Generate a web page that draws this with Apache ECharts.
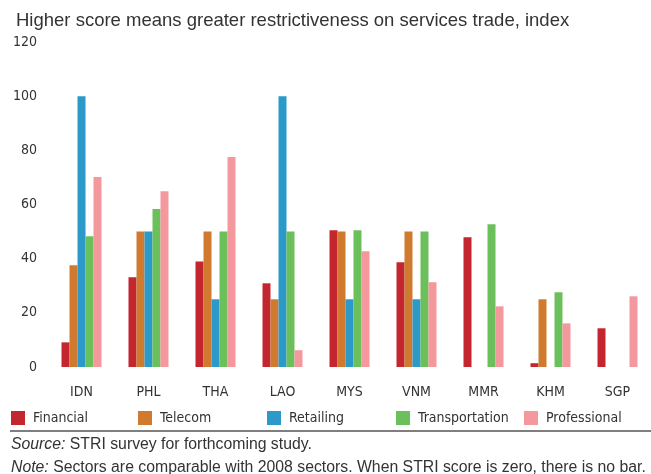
<!DOCTYPE html>
<html>
<head>
<meta charset="utf-8">
<script src="https://cdn.jsdelivr.net/npm/echarts@6/dist/echarts.min.js"></script>
<style>
html,body{margin:0;padding:0;background:#fff;}
#chart{width:651px;height:474px;}
</style>
</head>
<body>
<div id="chart"></div>
<script>
var categories = ['IDN','PHL','THA','LAO','MYS','VNM','MMR','KHM','SGP'];
var financial = [9.1, 33.1, 39.0, 30.9, 50.5, 38.7, 47.9, 1.4, 14.3];
var telecom = [37.6, 50, 50, 25, 50, 50, 0, 25, 0];
var retailing = [100, 50, 25, 100, 25, 25, 0, 0, 0];
var transportation = [48.3, 58.3, 50, 50, 50.5, 50, 52.7, 27.6, 0];
var professional = [70.2, 64.9, 77.5, 6.2, 42.7, 31.3, 22.4, 16.1, 26.1];
var seriesNames = ['Financial','Telecom','Retailing','Transportation','Professional'];
var yTicks = [0, 20, 40, 60, 80, 100, 120];

var colors = ['#C4262F','#CF7A2E','#2C9AC8','#6CC05C','#F5989D'];
var narrow = "'Liberation Sans Narrow','DejaVu Sans Condensed',sans-serif";
var regular = "'Liberation Sans',Arial,sans-serif";
var seriesData = [financial, telecom, retailing, transportation, professional];
var legendLefts = [11, 138, 267, 396, 524];

var chart = echarts.init(document.getElementById('chart'));
var option = {
  animation: false,
  color: colors,
  title: {
    text: 'Higher score means greater restrictiveness on services trade, index',
    left: 11, top: 6,
    textStyle: {fontFamily: regular, fontSize: 18.5, fontWeight: 'normal', color: '#333'}
  },
  grid: {left: 48, width: 605, top: 42, bottom: 107, containLabel: false},
  xAxis: {
    type: 'category',
    data: categories,
    axisLine: {show: false},
    axisTick: {show: false},
    axisLabel: {fontFamily: narrow, fontSize: 14, color: '#333', margin: 18}
  },
  yAxis: {
    type: 'value',
    min: yTicks[0], max: yTicks[yTicks.length - 1], interval: yTicks[1] - yTicks[0],
    splitLine: {show: false},
    axisLine: {show: false},
    axisTick: {show: false},
    axisLabel: {fontFamily: narrow, fontSize: 14, color: '#333', margin: 11}
  },
  legend: seriesNames.map(function (n, i) {
    return {
      data: [n], left: legendLefts[i], top: 411,
      itemWidth: 14, itemHeight: 14, icon: 'rect', padding: 0,
      selectedMode: false,
      textStyle: {fontFamily: narrow, fontSize: 14, color: '#333', padding: [0, 0, 0, 3]}
    };
  }),
  series: seriesNames.map(function (n, i) {
    return {
      name: n, type: 'bar', data: seriesData[i],
      barWidth: 8, barGap: '0%',
      itemStyle: {color: colors[i]}
    };
  }),
  graphic: [
    {type: 'line', shape: {x1: 10, y1: 431, x2: 651, y2: 431}, style: {stroke: '#555', lineWidth: 1.5}},
    {type: 'text', left: 11, top: 437, style: {
      text: '{i|Source:} STRI survey for forthcoming study.',
      font: '15.8px ' + regular, fill: '#333',
      rich: {i: {fontStyle: 'italic', fontFamily: regular, fontSize: 15.8, fill: '#333'}}
    }},
    {type: 'text', left: 11, top: 460, style: {
      text: '{i|Note:} Sectors are comparable with 2008 sectors. When STRI score is zero, there is no bar.',
      font: '15.8px ' + regular, fill: '#333',
      rich: {i: {fontStyle: 'italic', fontFamily: regular, fontSize: 15.8, fill: '#333'}}
    }}
  ]
};
chart.setOption(option);
</script>
</body>
</html>
